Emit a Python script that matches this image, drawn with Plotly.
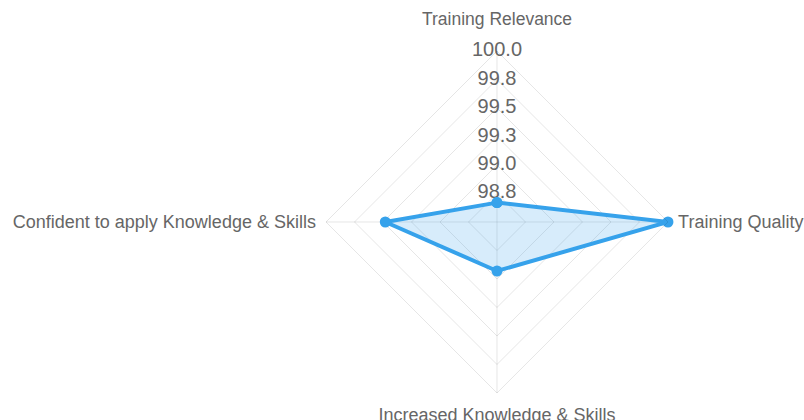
import plotly.graph_objects as go

categories = ["Training Relevance", "Training Quality", "Increased Knowledge & Skills",
              "Confident to apply Knowledge & Skills"]
category_labels = ["", "Training Quality", "Increased Knowledge & Skills",
                   "Confident to apply Knowledge & Skills"]
top_label = "Training Relevance"
values = [98.67, 100.0, 98.93, 99.48]
tick_vals = [98.75, 99.0, 99.25, 99.5, 99.75, 100.0]
tick_text = ["98.8", "99.0", "99.3", "99.5", "99.8", "100.0"]

grid = "rgba(0,0,0,0.1)"
txt = "#666666"
blue = "#36a2eb"
fam = "Liberation Sans, Arial"

fig = go.Figure()
fig.add_trace(go.Scatterpolar(
    r=tick_vals, theta=[categories[0]] * len(tick_vals), text=tick_text,
    mode="text", textfont=dict(size=20, color=txt, family=fam),
    cliponaxis=False, hoverinfo="skip", showlegend=False))
fig.add_trace(go.Scatterpolar(
    r=values + [values[0]], theta=categories + [categories[0]],
    mode="lines+markers", fill="toself", fillcolor="rgba(54,162,235,0.2)",
    line=dict(color=blue, width=4), marker=dict(color=blue, size=11),
    cliponaxis=False, showlegend=False))

fig.update_layout(
    width=804, height=420, margin=dict(l=0, r=0, t=0, b=0),
    paper_bgcolor="white", plot_bgcolor="white",
    font=dict(family=fam, color=txt),
    title=dict(text=top_label, x=0.6182, xanchor="center", y=0.955, yanchor="middle",
               font=dict(size=17.5, color=txt, family=fam)),
    polar=dict(
        domain=dict(x=[0.4055, 0.8308], y=[0.0643, 0.8786]),
        bgcolor="white", gridshape="linear",
        radialaxis=dict(range=[98.5, 100], tickvals=tick_vals, showticklabels=False,
                        showline=False, gridcolor=grid, gridwidth=1, ticks="", angle=90),
        angularaxis=dict(type="category", categoryarray=categories, rotation=90,
                         direction="clockwise", gridcolor=grid, linecolor=grid,
                         showline=True, ticks="outside", ticklen=6,
                         tickvals=categories, ticktext=category_labels,
                         tickcolor="rgba(0,0,0,0)",
                         tickfont=dict(size=18, color=txt, family=fam)),
    ),
)
fig.write_html("out.html", config={"displayModeBar": False},
               post_script="document.body.style.margin='0';")
